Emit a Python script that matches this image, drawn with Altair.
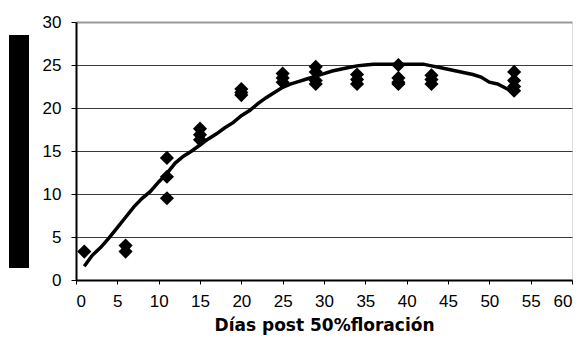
import altair as alt
import pandas as pd

# Observed data points (días, value)
x_pts = [1, 6, 6, 11, 11, 11, 15, 15, 15, 20, 20, 20, 25, 25, 25, 29, 29, 29, 29,
         34, 34, 34, 39, 39, 39, 39, 43, 43, 43, 53, 53, 53, 53]
y_pts = [3.3, 4.0, 3.3, 14.2, 12.0, 9.5, 17.6, 16.9, 16.3, 22.2, 21.8, 21.5,
         24.0, 23.5, 23.0, 24.8, 24.2, 23.2, 22.8, 23.9, 23.3, 22.8,
         25.0, 23.5, 23.0, 22.8, 23.8, 23.3, 22.8, 24.2, 23.2, 22.5, 22.0]

# Fitted curve
x_fit = [1, 2, 3, 4, 5, 6, 7, 8, 9, 10, 11, 12, 13, 14, 15, 16, 17, 18, 19, 20,
         21, 22, 23, 24, 25, 26, 27, 28, 29, 30, 31, 32, 33, 34, 35, 36, 38, 40,
         42, 43, 44, 45, 46, 47, 48, 49, 50, 51, 52, 53]
y_fit = [1.6, 2.9, 3.8, 4.9, 6.1, 7.3, 8.5, 9.5, 10.3, 11.4, 12.4, 13.6, 14.4,
         15.0, 15.7, 16.4, 17.0, 17.7, 18.3, 19.1, 19.7, 20.5, 21.2, 21.8, 22.4,
         22.8, 23.1, 23.4, 23.7, 24.0, 24.3, 24.5, 24.7, 24.9, 25.0, 25.1, 25.1,
         25.1, 25.1, 24.9, 24.7, 24.5, 24.3, 24.1, 23.9, 23.6, 23.0, 22.8, 22.3,
         21.8]

x_ticks = list(range(0, 61, 5))
y_ticks = list(range(0, 31, 5))

pts = pd.DataFrame({"x": x_pts, "y": y_pts})
fit = pd.DataFrame({"x": x_fit, "y": y_fit})

FONT = "Liberation Sans"

xscale = alt.Scale(domain=[0, 60], nice=False, zero=False)
yscale = alt.Scale(domain=[0, 30], nice=False)

xaxis = alt.Axis(values=x_ticks, title="Días post 50%floración", grid=False,
                 domainColor="black", domainWidth=2, tickColor="black",
                 tickSize=4, tickWidth=1, labelFont=FONT, labelFontSize=17,
                 labelColor="black", labelPadding=9,
                 titleFont="DejaVu Sans", titleFontWeight="bold",
                 titleFontSize=17, titleColor="black", titlePadding=8)
yaxis = alt.Axis(values=y_ticks, title=None, grid=True,
                 gridColor=alt.condition("datum.value === 30", alt.value("#999999"), alt.value("#3a3a3a")),
                 gridWidth=alt.condition("datum.value === 30", alt.value(2), alt.value(1)),
                 domainColor="black", domainWidth=2, tickColor="black",
                 tickSize=5, tickWidth=1, labelFont=FONT, labelFontSize=17,
                 labelColor="black", labelPadding=10)

base = alt.Chart(pts)

scatter = base.mark_point(shape="diamond", filled=True, color="black",
                          size=200, opacity=1).encode(
    x=alt.X("x:Q", scale=xscale, axis=xaxis),
    y=alt.Y("y:Q", scale=yscale, axis=yaxis),
)

line = alt.Chart(fit).mark_line(color="black", strokeWidth=3.5).encode(
    x=alt.X("x:Q", scale=xscale),
    y=alt.Y("y:Q", scale=yscale),
)

# redaction box standing in for the y-axis title
box = alt.Chart(pd.DataFrame({"a": [0]})).mark_rect(color="black").encode(
    x=alt.value(-67), x2=alt.value(-47), y=alt.value(13), y2=alt.value(246)
)

chart = alt.layer(line, scatter, box).properties(
    width=496, height=258,
    autosize=alt.AutoSizeParams(type="none"),
    padding={"left": 68, "top": 14, "right": 3, "bottom": 60},
).configure_view(
    stroke="#999999", strokeWidth=2
).configure(background="white")

chart.save("out.html", embed_options={"renderer": "svg", "actions": False})
